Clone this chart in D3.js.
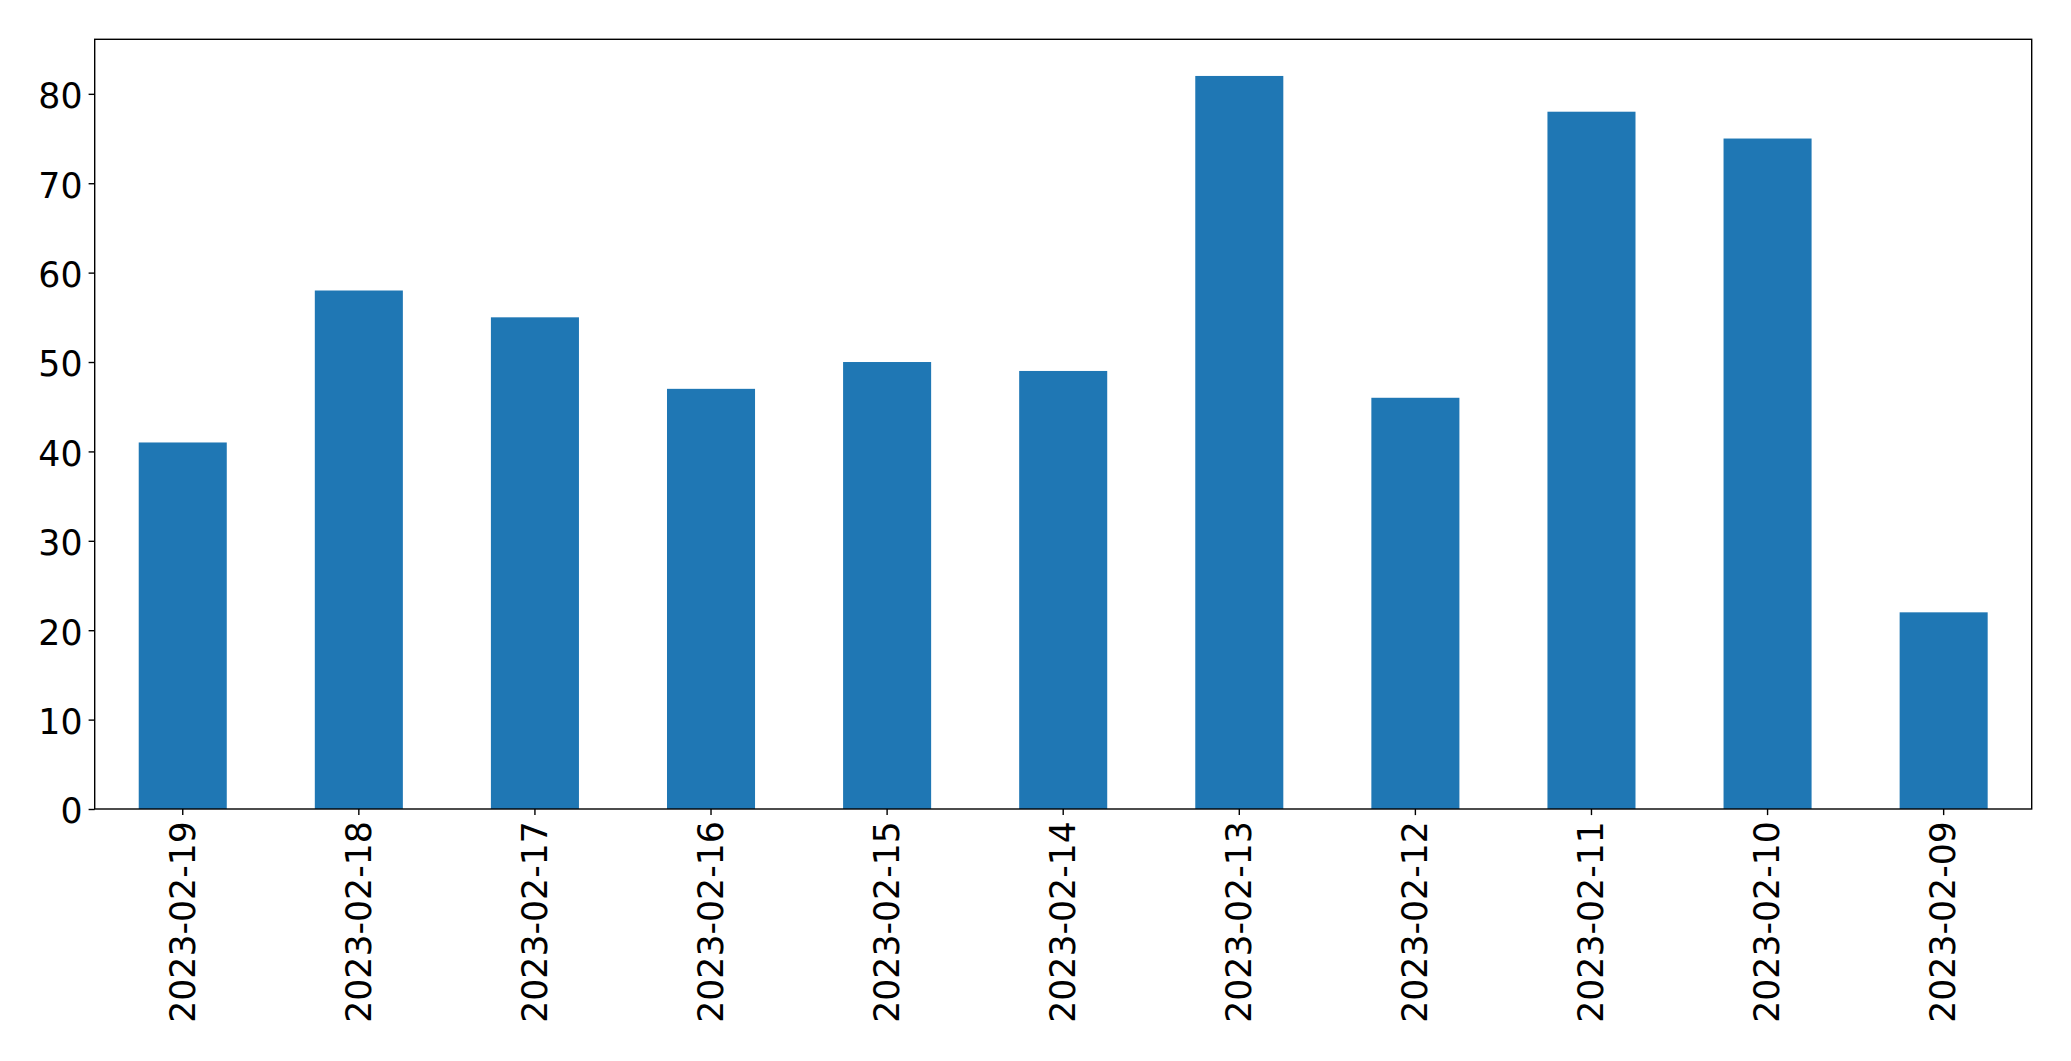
<!DOCTYPE html>
<html>
<head>
<meta charset="utf-8">
<script src="https://cdn.jsdelivr.net/npm/d3@7"></script>
<style>
  body { margin: 0; background: #fff; }
  text { font-family: 'DejaVu Sans', sans-serif; }
</style>
</head>
<body>
<svg></svg>
<script>
'use strict'

const dates = [
  '2023-02-19', '2023-02-18', '2023-02-17', '2023-02-16', '2023-02-15', '2023-02-14',
  '2023-02-13', '2023-02-12', '2023-02-11', '2023-02-10', '2023-02-09'
]
const counts = [41, 58, 55, 47, 50, 49, 82, 46, 78, 75, 22]
const yTicks = [0, 10, 20, 30, 40, 50, 60, 70, 80]

const margin = { top: 39.3, right: 39.3, bottom: 252, left: 94.7 }
const fullWidth = 2071,
  fullHeight = 1061
const width = fullWidth - margin.left - margin.right,
  height = fullHeight - margin.top - margin.bottom

const fontSize = 34.7
const tickLen = 6.1,
  tickPad = 6.1

const svg = d3
  .select('svg')
  .attr('width', fullWidth)
  .attr('height', fullHeight)

const group = svg
  .append('g')
  .attr('transform', 'translate(' + margin.left + ',' + margin.top + ')')

// categorical positions like matplotlib: xlim -0.5..n-0.5, bar width 0.5
const xScale = d3
  .scaleBand()
  .domain(dates)
  .range([0, width])
  .paddingInner(0.5)
  .paddingOuter(0.25)

const yScale = d3
  .scaleLinear()
  .domain([0, d3.max(counts) * 1.05])
  .range([height, 0])

group
  .selectAll('rect.bar')
  .data(counts)
  .enter()
  .append('rect')
  .attr('class', 'bar')
  .attr('x', (d, i) => xScale(dates[i]))
  .attr('y', d => yScale(d))
  .attr('width', xScale.bandwidth())
  .attr('height', d => height - yScale(d))
  .style('fill', '#1f77b4')

// y axis
const yAxis = group
  .append('g')
  .attr('class', 'y-axis')
  .call(
    d3
      .axisLeft(yScale)
      .tickValues(yTicks)
      .tickSize(tickLen)
      .tickPadding(tickPad)
      .tickFormat(d3.format('d'))
  )
yAxis.select('.domain').remove()
yAxis.selectAll('line').attr('stroke', '#000').attr('stroke-width', 1.4)
yAxis
  .selectAll('text')
  .attr('fill', '#000')
  .attr('dy', '0.4em')
  .style('font-size', fontSize + 'px')

// x axis
const xAxis = group
  .append('g')
  .attr('class', 'x-axis')
  .attr('transform', 'translate(0,' + height + ')')
  .call(d3.axisBottom(xScale).tickSize(tickLen).tickFormat(''))
xAxis.select('.domain').remove()
xAxis.selectAll('line').attr('stroke', '#000').attr('stroke-width', 1.4)
xAxis.selectAll('text').remove()

group
  .append('g')
  .attr('class', 'x-labels')
  .selectAll('text')
  .data(dates)
  .enter()
  .append('text')
  .attr(
    'transform',
    d => 'translate(' + (xScale(d) + xScale.bandwidth() / 2) + ',' + (height + tickLen + tickPad) + ') rotate(-90)'
  )
  .attr('text-anchor', 'end')
  .attr('dy', '0.34em')
  .style('font-size', fontSize + 'px')
  .attr('fill', '#000')
  .text(d => d)

// frame
group
  .append('rect')
  .attr('x', 0)
  .attr('y', 0)
  .attr('width', width)
  .attr('height', height)
  .attr('fill', 'none')
  .attr('stroke', '#000')
  .attr('stroke-width', 1.4)
</script>
</body>
</html>
